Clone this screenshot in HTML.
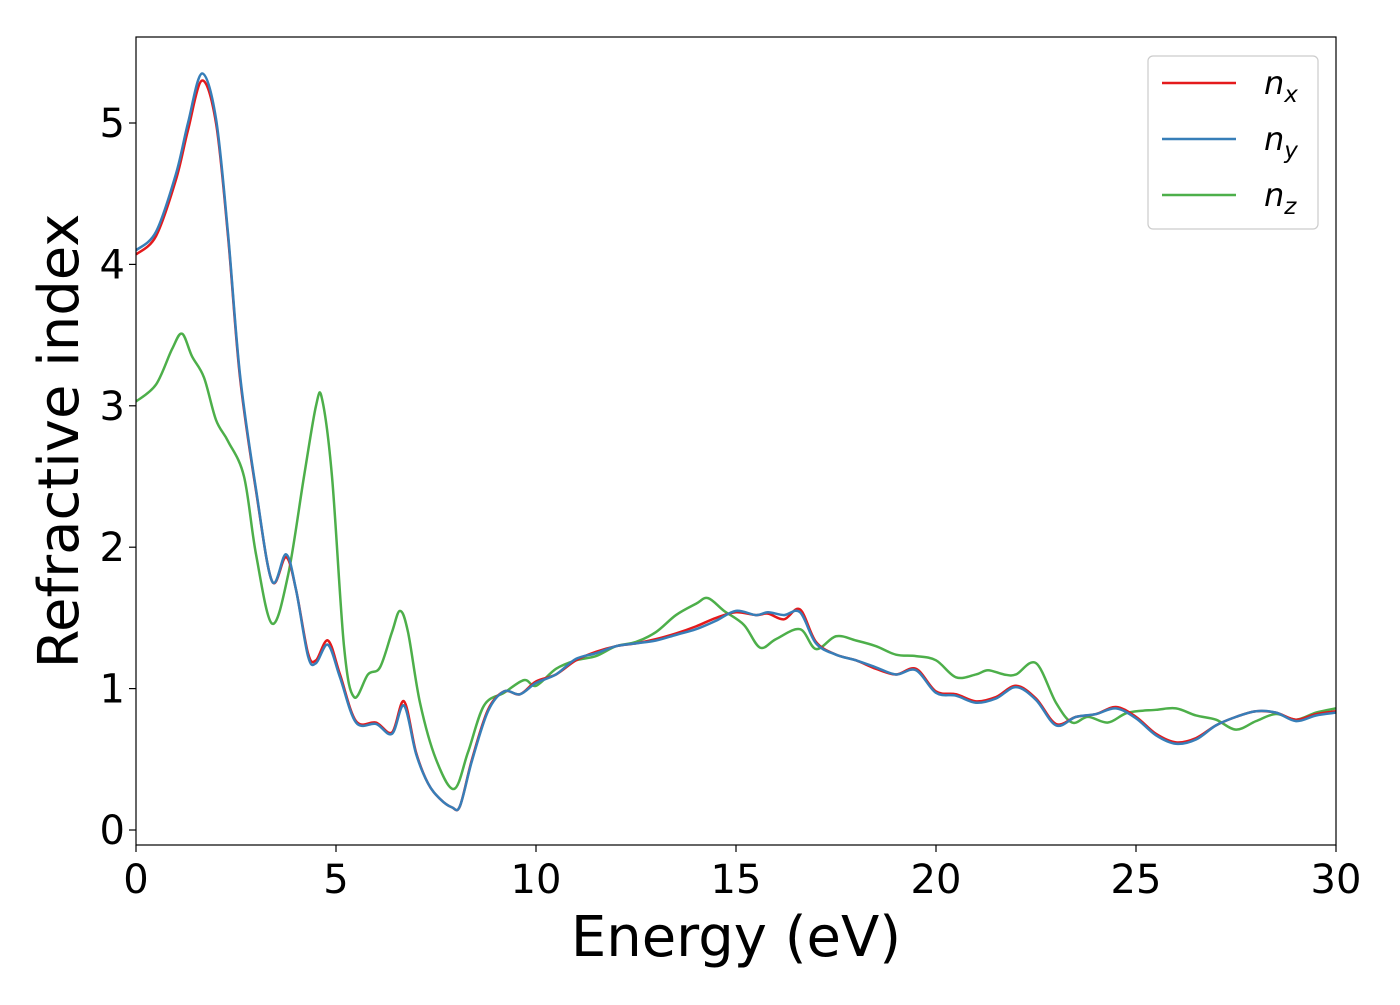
<!DOCTYPE html>
<html><head><meta charset="utf-8"><style>
body{margin:0;background:#fff;}
svg text{font-family:"DejaVu Sans","Liberation Sans",sans-serif;}
</style></head><body>
<svg width="1400" height="1000" viewBox="0 0 1400 1000">
<g id="plot"></g>
</svg>
<script>
const xTicks=[0,5,10,15,20,25,30];
const yTicks=[0,1,2,3,4,5];
const seriesNames=["x","y","z"];
const seriesColors=["#e41a1c","#377eb8","#4daf4a"];
const nxE=[0,0.5,1,1.3,1.65,2,2.3,2.6,3,3.4,3.75,4,4.3,4.5,4.8,5.1,5.5,6,6.4,6.7,7,7.3,7.6,7.9,8.1,8.4,8.8,9.2,9.6,10,10.5,11,11.5,12,12.5,13,13.5,14,14.5,15,15.5,15.8,16.2,16.6,17,17.5,18,18.5,19,19.5,20,20.5,21,21.5,22,22.5,23,23.5,24,24.5,25,25.5,26,26.5,27,27.5,28,28.5,29,29.5,30];
const nxV=[4.07,4.2,4.6,4.95,5.3,5.0,4.2,3.2,2.4,1.76,1.93,1.7,1.25,1.2,1.34,1.1,0.77,0.76,0.69,0.91,0.55,0.33,0.22,0.16,0.17,0.5,0.85,0.98,0.96,1.05,1.1,1.2,1.26,1.3,1.32,1.35,1.39,1.44,1.5,1.54,1.52,1.53,1.49,1.56,1.33,1.24,1.2,1.14,1.1,1.14,0.98,0.96,0.91,0.94,1.02,0.93,0.75,0.8,0.82,0.87,0.8,0.68,0.62,0.65,0.74,0.8,0.84,0.83,0.78,0.82,0.84];
const nyV=[4.1,4.23,4.64,5.0,5.35,5.03,4.22,3.22,2.41,1.76,1.95,1.7,1.23,1.18,1.31,1.08,0.76,0.75,0.68,0.88,0.54,0.33,0.22,0.16,0.17,0.49,0.84,0.98,0.96,1.04,1.1,1.21,1.25,1.3,1.32,1.34,1.38,1.42,1.48,1.55,1.52,1.54,1.52,1.54,1.32,1.24,1.2,1.15,1.1,1.13,0.97,0.95,0.9,0.93,1.01,0.92,0.74,0.8,0.82,0.86,0.79,0.67,0.61,0.64,0.74,0.8,0.84,0.83,0.77,0.81,0.83];
const nzE=[0,0.5,0.9,1.15,1.4,1.7,2,2.3,2.7,3,3.4,3.8,4.2,4.5,4.65,4.9,5.2,5.45,5.8,6.1,6.4,6.6,6.8,7.1,7.5,7.95,8.3,8.7,9.2,9.7,10,10.5,11,11.5,12,12.5,13,13.5,14,14.3,14.7,15.2,15.6,16,16.6,17,17.5,18,18.5,19,19.5,20,20.5,21,21.3,21.7,22,22.5,23,23.4,23.8,24.3,24.8,25.5,26,26.5,27,27.5,28,28.5,29,29.5,30];
const nzV=[3.03,3.15,3.4,3.51,3.35,3.2,2.9,2.75,2.5,1.95,1.46,1.8,2.5,3.0,3.05,2.5,1.3,0.94,1.1,1.15,1.4,1.55,1.4,0.9,0.5,0.29,0.55,0.88,0.97,1.06,1.02,1.14,1.2,1.23,1.3,1.33,1.4,1.52,1.6,1.64,1.55,1.45,1.29,1.35,1.42,1.28,1.37,1.34,1.3,1.24,1.23,1.2,1.08,1.1,1.13,1.1,1.1,1.18,0.9,0.76,0.8,0.76,0.83,0.85,0.86,0.81,0.78,0.71,0.77,0.82,0.78,0.83,0.86];

const L=136,R=1336,T=37,B=845;
const X=e=>L+(e-0)/30*(R-L);
const Y=v=>830-v*141.4;
const NS="http://www.w3.org/2000/svg";
const g=document.getElementById('plot');
function mk(t,a,p){const el=document.createElementNS(NS,t);for(const k in a)el.setAttribute(k,a[k]);(p||g).appendChild(el);return el;}
function smooth(E,V){const p=E.map((e,i)=>[X(e),Y(V[i])]);let d="M"+p[0][0]+","+p[0][1];
for(let i=0;i<p.length-1;i++){const p0=p[Math.max(0,i-1)],p1=p[i],p2=p[i+1],p3=p[Math.min(p.length-1,i+2)];
d+=" C"+(p1[0]+(p2[0]-p0[0])/6)+","+(p1[1]+(p2[1]-p0[1])/6)+" "+(p2[0]-(p3[0]-p1[0])/6)+","+(p2[1]-(p3[1]-p1[1])/6)+" "+p2[0]+","+p2[1];}return d;}
const clip=mk('clipPath',{id:'cp'});mk('rect',{x:L,y:T,width:R-L,height:B-T},clip);
const data=[[nxE,nxV],[nxE,nyV],[nzE,nzV]];
const order=[2,0,1];
order.forEach(i=>{const p=mk('path',{d:smooth(data[i][0],data[i][1]),fill:'none',stroke:seriesColors[i],'stroke-width':2.5,'clip-path':'url(#cp)'});

});
const frame=mk('rect',{x:L,y:T,width:R-L,height:B-T,fill:'none',stroke:'#000','stroke-width':1.2});

xTicks.forEach(t=>{mk('line',{x1:X(t),x2:X(t),y1:B,y2:B+7,stroke:'#000','stroke-width':1.2});
const tx=mk('text',{x:X(t),y:893,'font-size':40,'text-anchor':'middle'});tx.textContent=t;
});
yTicks.forEach(t=>{mk('line',{x1:L-7,x2:L,y1:Y(t),y2:Y(t),stroke:'#000','stroke-width':1.2});
const tx=mk('text',{x:125,y:Y(t)+14,'font-size':40,'text-anchor':'end'});tx.textContent=t;
});
const xl=mk('text',{x:736,y:956,'font-size':56,'text-anchor':'middle'});xl.textContent='Energy (eV)';

const yl=mk('text',{x:0,y:0,'font-size':56,'text-anchor':'middle',transform:'translate(78,441) rotate(-90)'});yl.textContent='Refractive index';

const lg=mk('g',{});

mk('rect',{x:1148,y:56,width:170,height:173,rx:5,fill:'#fff',stroke:'#ccc','stroke-width':1.2},lg);
seriesNames.forEach((n,i)=>{const y=83+i*56;
mk('line',{x1:1162,x2:1236,y1:y,y2:y,stroke:seriesColors[i],'stroke-width':2.5},lg);
const t=mk('text',{x:1264,y:y+11,'font-size':32,'font-style':'italic'},lg);

t.innerHTML='n<tspan font-size="23" dy="8">'+n+'</tspan>';});
</script>
</body></html>
